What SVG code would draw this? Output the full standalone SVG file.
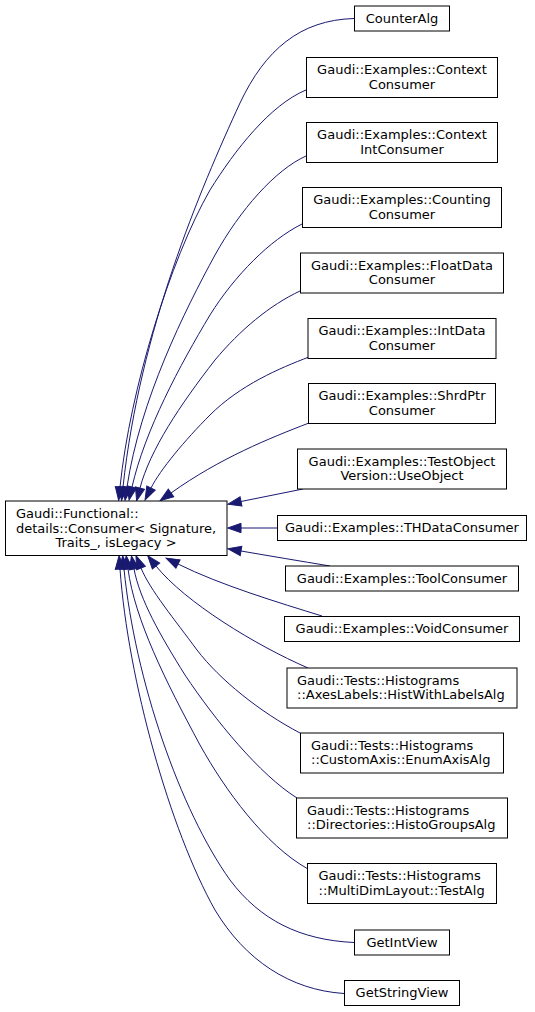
<svg xmlns="http://www.w3.org/2000/svg" width="535" height="1012" viewBox="0 0 535 1012">
<defs>
<style>
text{font-family:"DejaVu Sans","Liberation Sans",sans-serif;font-size:13px;fill:#000}
.c{text-anchor:middle}
.n rect{fill:#fff;stroke:#000;stroke-width:1}
.e path{fill:none;stroke:#191970;stroke-width:1;marker-end:url(#ah)}
</style>
<marker id="ah" markerUnits="userSpaceOnUse" markerWidth="16" markerHeight="12" viewBox="-1 -6 16 12" refX="0" refY="0" orient="auto" overflow="visible">
<path d="M0,-4.7L13.3,0L0,4.7z" fill="#191970" stroke="#191970" stroke-width="1"/>
</marker>
</defs>
<rect width="535" height="1012" fill="#fff"/>
<g id="edges" class="e">
<path d="M354,18.5C300,20 265,50 240,103C200,190 140,330 123,487"/>
<path d="M306,90C270,105 235,150 210,190C170,260 130,390 120,487"/>
<path d="M306,156C275,170 240,210 215,255C185,310 140,400 127,487"/>
<path d="M302,224C270,240 235,275 210,315C180,365 145,430 132,487"/>
<path d="M300,291C270,305 240,330 215,360C180,405 150,450 140,488"/>
<path d="M309,357C280,368 240,385 210,415C185,440 160,470 151,488"/>
<path d="M309,423C270,438 220,458 171,493"/>
<path d="M303,489L241,501.5"/>
<path d="M278,528L241,528"/>
<path d="M330,566C300,561 270,556 241,551"/>
<path d="M322,616C280,603 220,585 178,564"/>
<path d="M308,668C255,645 185,602 156,566"/>
<path d="M300,733C260,712 220,680 197,650C175,620 150,590 141,568"/>
<path d="M297,798C260,775 215,720 185,675C160,635 140,600 134,569"/>
<path d="M308,869C265,845 225,790 200,745C165,680 135,620 128,569"/>
<path d="M354,942.5C300,940 260,920 230,880C180,810 135,680 124,569"/>
<path d="M344,993.5C290,990 245,960 215,910C170,830 128,680 120,569"/>
</g>
<g id="main" class="n"><rect x="5.5" y="501" width="221.5" height="54.5"/><text x="16" y="518">Gaudi::Functional::</text><text x="16" y="532.5">details::Consumer&lt; Signature,</text><text class="c" x="116" y="547">Traits_, isLegacy &gt;</text></g>
<g id="n1" class="n"><rect x="354.5" y="6" width="95" height="25"/><text class="c" x="402" y="22.5">CounterAlg</text></g>
<g id="n2" class="n"><rect x="306.5" y="57.5" width="191" height="40"/><text class="c" x="402" y="74">Gaudi::Examples::Context</text><text class="c" x="402" y="88.5">Consumer</text></g>
<g id="n3" class="n"><rect x="306.5" y="122.5" width="191" height="40"/><text class="c" x="402" y="139">Gaudi::Examples::Context</text><text class="c" x="402" y="153.5">IntConsumer</text></g>
<g id="n4" class="n"><rect x="302.5" y="187.5" width="199" height="40"/><text class="c" x="402" y="204">Gaudi::Examples::Counting</text><text class="c" x="402" y="218.5">Consumer</text></g>
<g id="n5" class="n"><rect x="300.5" y="253" width="203" height="40"/><text class="c" x="402" y="269.5">Gaudi::Examples::FloatData</text><text class="c" x="402" y="284">Consumer</text></g>
<g id="n6" class="n"><rect x="308" y="318.5" width="188" height="40"/><text class="c" x="402" y="335">Gaudi::Examples::IntData</text><text class="c" x="402" y="349.5">Consumer</text></g>
<g id="n7" class="n"><rect x="308.5" y="383.5" width="187" height="40"/><text class="c" x="402" y="400">Gaudi::Examples::ShrdPtr</text><text class="c" x="402" y="414.5">Consumer</text></g>
<g id="n8" class="n"><rect x="297.5" y="449" width="209" height="40"/><text class="c" x="402" y="465.5">Gaudi::Examples::TestObject</text><text class="c" x="402" y="480">Version::UseObject</text></g>
<g id="n9" class="n"><rect x="277.5" y="515.5" width="249" height="25"/><text class="c" x="402" y="532">Gaudi::Examples::THDataConsumer</text></g>
<g id="n10" class="n"><rect x="285.5" y="566" width="233" height="25"/><text class="c" x="402" y="582.5">Gaudi::Examples::ToolConsumer</text></g>
<g id="n11" class="n"><rect x="284.5" y="616.5" width="235" height="25"/><text class="c" x="402" y="633">Gaudi::Examples::VoidConsumer</text></g>
<g id="n12" class="n"><rect x="287" y="668" width="230" height="40"/><text x="297" y="684.5">Gaudi::Tests::Histograms</text><text x="297" y="699">::AxesLabels::HistWithLabelsAlg</text></g>
<g id="n13" class="n"><rect x="300.5" y="733" width="203" height="40"/><text x="311" y="749.5">Gaudi::Tests::Histograms</text><text x="311" y="764">::CustomAxis::EnumAxisAlg</text></g>
<g id="n14" class="n"><rect x="296.5" y="798" width="211" height="40"/><text x="307" y="814.5">Gaudi::Tests::Histograms</text><text x="307" y="829">::Directories::HistoGroupsAlg</text></g>
<g id="n15" class="n"><rect x="307.5" y="863.5" width="189" height="40"/><text x="318.5" y="880">Gaudi::Tests::Histograms</text><text x="318.5" y="894.5">::MultiDimLayout::TestAlg</text></g>
<g id="n16" class="n"><rect x="354.5" y="930" width="95" height="25"/><text class="c" x="402" y="946.5">GetIntView</text></g>
<g id="n17" class="n"><rect x="344.5" y="980.5" width="115" height="25"/><text class="c" x="402" y="997">GetStringView</text></g>
</svg>
